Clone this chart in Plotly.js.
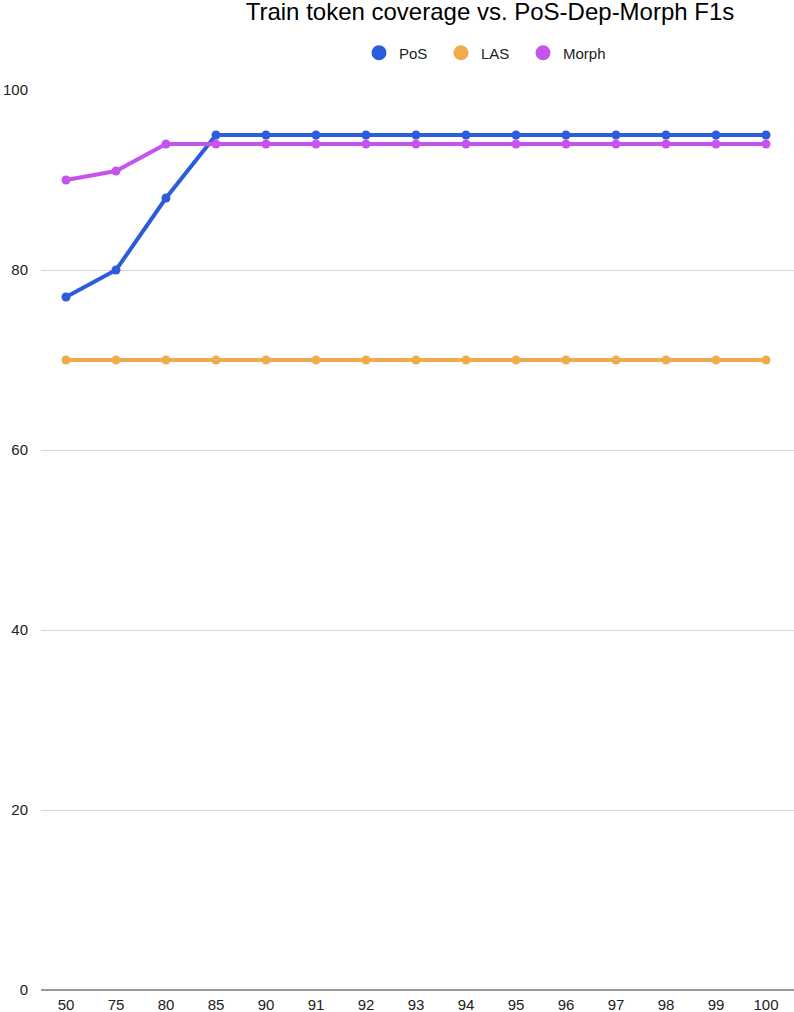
<!DOCTYPE html>
<html>
<head>
<meta charset="utf-8">
<script src="https://cdn.plot.ly/plotly-3.0.1.min.js"></script>
<style>
  html, body { margin: 0; padding: 0; background: #fff; overflow: hidden; }
  #chart { width: 794px; height: 1012px; }
</style>
</head>
<body>
<div id="chart"></div>
<script>
const coverage = ['50','75','80','85','90','91','92','93','94','95','96','97','98','99','100'];
const posF1   = [77, 80, 88, 95, 95, 95, 95, 95, 95, 95, 95, 95, 95, 95, 95];
const lasF1   = [70, 70, 70, 70, 70, 70, 70, 70, 70, 70, 70, 70, 70, 70, 70];
const morphF1 = [90, 91, 94, 94, 94, 94, 94, 94, 94, 94, 94, 94, 94, 94, 94];
const seriesNames = ['PoS', 'LAS', 'Morph'];
const seriesColors = ['#2B5CDB', '#F0AC4C', '#C553EE'];
const chartTitle = 'Train token coverage vs. PoS-Dep-Morph F1s';

const seriesValues = [posF1, lasF1, morphF1];
const traces = [];
seriesValues.forEach((vals, i) => {
  traces.push({
    type: 'scatter', mode: 'lines+markers',
    x: coverage, y: vals, name: seriesNames[i],
    line: { color: seriesColors[i], width: 4 },
    marker: { color: seriesColors[i], size: 9 },
    showlegend: false, hoverinfo: 'x+y'
  });
});
// legend-only entries (circle symbols)
seriesNames.forEach((n, i) => {
  traces.push({
    type: 'scatter', mode: 'markers', x: [null], y: [null], name: n,
    marker: { color: seriesColors[i], size: 15 }, showlegend: true
  });
});

const layout = {
  width: 794, height: 1012,
  paper_bgcolor: '#fff', plot_bgcolor: '#fff',
  font: { family: 'Liberation Sans, Arial, sans-serif', size: 15, color: '#222' },
  margin: { l: 41, r: 0, t: 90, b: 22, pad: 0 },
  title: {
    text: chartTitle,
    font: { family: 'Liberation Sans, Arial, sans-serif', size: 24, color: '#000' },
    xref: 'container', x: 490 / 794, xanchor: 'center',
    yref: 'container', y: 1 - 20 / 1012, yanchor: 'bottom'
  },
  showlegend: true,
  legend: {
    orientation: 'h', xref: 'container', x: 482 / 794, xanchor: 'center',
    yref: 'container', y: 1 - 53 / 1012, yanchor: 'middle',
    font: { size: 15, color: '#222' },
    entrywidth: 37, entrywidthmode: 'pixels',
    bgcolor: 'rgba(0,0,0,0)'
  },
  xaxis: {
    type: 'category', range: [-0.5, 14.56],
    showgrid: false, zeroline: false, showline: false,
    ticks: '', ticklabelstandoff: 4, tickfont: { size: 15, color: '#222' },
    fixedrange: true
  },
  yaxis: {
    range: [0, 100], tickvals: [0, 20, 40, 60, 80, 100],
    showgrid: true, gridcolor: '#d4d4d4', gridwidth: 1,
    zeroline: true, zerolinecolor: '#9a9a9a', zerolinewidth: 1.5,
    showline: false, ticks: '', ticklabelstandoff: 12,
    tickfont: { size: 15, color: '#222' }, fixedrange: true
  }
};

Plotly.newPlot('chart', traces, layout, { displayModeBar: false, staticPlot: true });
</script>
</body>
</html>
